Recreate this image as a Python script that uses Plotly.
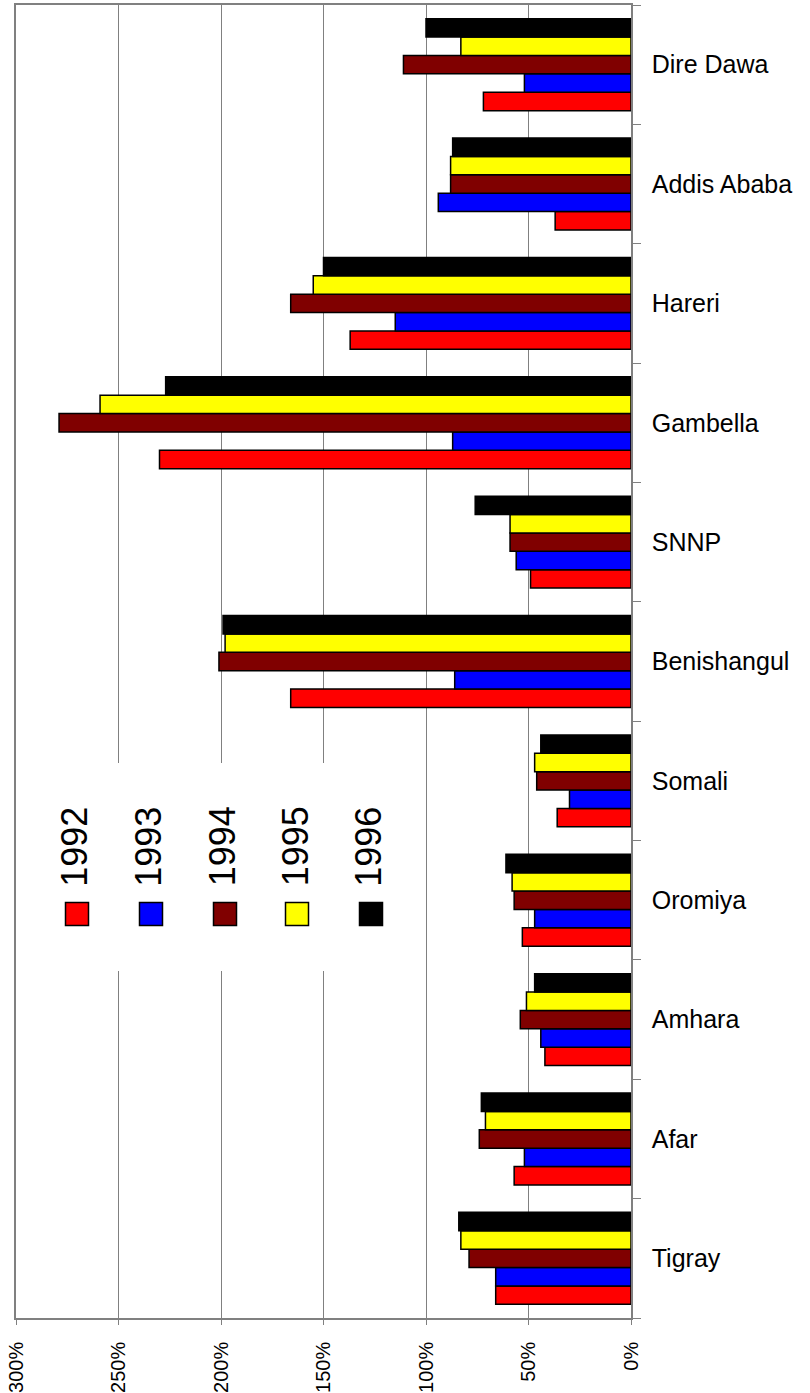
import plotly.graph_objects as go

regions = ["Tigray", "Afar", "Amhara", "Oromiya", "Somali", "Benishangul",
           "SNNP", "Gambella", "Hareri", "Addis Ababa", "Dire Dawa"]
years = ["1992", "1993", "1994", "1995", "1996"]
y1992 = [66, 57, 42, 53, 36, 166, 49, 230, 137, 37, 72]
y1993 = [66, 52, 44, 47, 30, 86, 56, 87, 115, 94, 52]
y1994 = [79, 74, 54, 57, 46, 201, 59, 279, 166, 88, 111]
y1995 = [83, 71, 51, 58, 47, 198, 59, 259, 155, 88, 83]
y1996 = [84, 73, 47, 61, 44, 199, 76, 227, 150, 87, 100]
series = [y1992, y1993, y1994, y1995, y1996]
colors = ["#FF0000", "#0000FF", "#800000", "#FFFF00", "#000000"]
tick_vals = [0, 50, 100, 150, 200, 250, 300]
tick_text = ["0%", "50%", "100%", "150%", "200%", "250%", "300%"]

W, H = 810, 1393
L, R, T, B = 16, 631, 5, 1318


def px(xp):
    return (xp - L) / (R - L)


def py(yp):
    return (B - yp) / (B - T)


FONT = "Liberation Sans, Arial, sans-serif"
GRAY = "#808080"

fig = go.Figure()
for name, vals, col in zip(years, series, colors):
    fig.add_trace(go.Bar(
        y=regions, x=vals, name=name, orientation="h",
        marker=dict(color=col, line=dict(color="black", width=1.5)),
        showlegend=False,
    ))

shapes = [dict(type="rect", xref="paper", yref="paper",
               x0=px(40), x1=px(400), y0=py(971), y1=py(763),
               fillcolor="white", line=dict(width=0), layer="above")]
annotations = []
text_x = [75, 149, 222.5, 295.5, 369]
sw_x = [77, 151, 225, 297, 371]
for name, col, tx, sx in zip(years, colors, text_x, sw_x):
    annotations.append(dict(
        text=name, xref="paper", yref="paper", x=px(tx), y=py(846.7),
        xanchor="center", yanchor="middle", textangle=-90, showarrow=False,
        font=dict(family=FONT, size=36, color="black")))
    shapes.append(dict(type="rect", xref="paper", yref="paper",
                       x0=px(sx - 11.5), x1=px(sx + 11.5),
                       y0=py(914 + 11.5), y1=py(914 - 11.5),
                       fillcolor=col, line=dict(color="black", width=1.5),
                       layer="above"))

fig.update_layout(
    width=W, height=H,
    margin=dict(l=L, r=W - R, t=T, b=H - B, pad=0, autoexpand=False),
    paper_bgcolor="white", plot_bgcolor="white",
    barmode="group", bargap=0.23, bargroupgap=0,
    font=dict(family=FONT, color="black"),
    shapes=shapes, annotations=annotations,
)
fig.update_xaxes(
    range=[300, 0], tickmode="array", tickvals=tick_vals, ticktext=tick_text,
    tickangle=-90, tickfont=dict(size=20, family=FONT, color="black"),
    showgrid=True, gridcolor=GRAY, gridwidth=1,
    showline=True, linecolor=GRAY, linewidth=1.5, mirror=True,
    ticks="outside", ticklen=5, tickcolor=GRAY,
    ticklabelstandoff=9, zeroline=False, automargin=False,
)
fig.update_yaxes(
    side="right", type="category", categoryorder="array", categoryarray=regions,
    tickfont=dict(size=25, family=FONT, color="black"),
    showline=True, linecolor=GRAY, linewidth=1.5, mirror=True,
    ticks="outside", ticklen=8, tickcolor=GRAY, tickson="boundaries",
    ticklabelstandoff=14, showgrid=False, automargin=False,
)

fig.write_html("out.html",
               config={"displayModeBar": False},
               post_script="document.body.style.margin='0';document.body.style.overflow='hidden';")
